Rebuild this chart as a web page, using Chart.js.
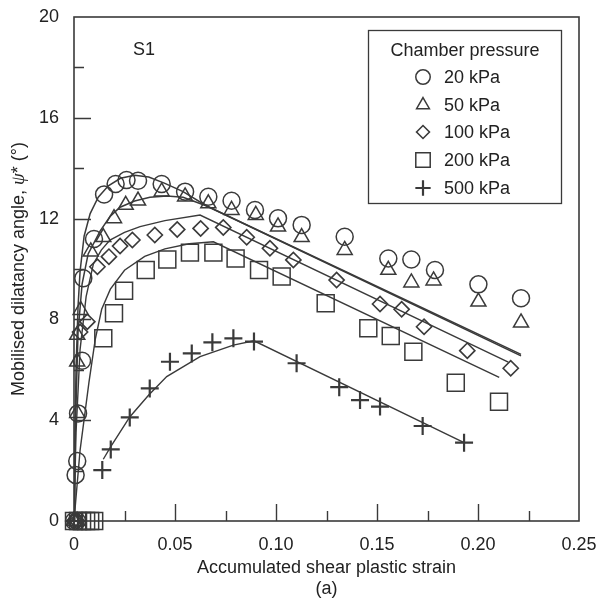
<!DOCTYPE html>
<html>
<head>
<meta charset="utf-8">
<script src="https://cdn.jsdelivr.net/npm/chart.js@4"></script>
<style>
  html, body { margin: 0; padding: 0; background: #fff; }
  #wrap { width: 598px; height: 600px; }
</style>
</head>
<body>
<div id="wrap"><canvas id="dilChart" width="598" height="600"></canvas></div>
<script>
// tick values
const xTicks = [0, 0.05, 0.10, 0.15, 0.20, 0.25];
const yTicks = [0, 4, 8, 12, 16, 20];

const seriesNames = ['20 kPa', '50 kPa', '100 kPa', '200 kPa', '500 kPa'];

// measured points
const p20X = [0, 0.0015, 0.0008, 0.0016, 0.002, 0.004, 0.0046, 0.0099, 0.0149, 0.0206, 0.026, 0.0317, 0.0434, 0.055, 0.0665, 0.078, 0.0896, 0.101, 0.1127, 0.134, 0.1556, 0.167, 0.1787, 0.2002, 0.2213];
const p20Y = [0, 0, 1.83, 2.38, 4.27, 6.36, 9.63, 11.19, 12.96, 13.37, 13.53, 13.5, 13.37, 13.07, 12.87, 12.71, 12.34, 12.01, 11.75, 11.28, 10.42, 10.38, 9.96, 9.39, 8.84];

const p50X = [0, 0.0015, 0.0016, 0.0016, 0.0016, 0.0033, 0.0083, 0.0145, 0.0198, 0.0256, 0.0317, 0.0434, 0.055, 0.0665, 0.078, 0.090, 0.101, 0.1127, 0.134, 0.1556, 0.167, 0.178, 0.2002, 0.2213];
const p50Y = [0, 0, 4.28, 6.32, 7.38, 8.37, 10.69, 11.26, 12.01, 12.54, 12.71, 13.07, 12.87, 12.6, 12.34, 12.14, 11.68, 11.26, 10.75, 9.96, 9.46, 9.54, 8.7, 7.87];

const p100X = [0, 0.0015, 0.003, 0.0066, 0.0116, 0.0173, 0.0228, 0.0289, 0.04, 0.0511, 0.0627, 0.0739, 0.0855, 0.097, 0.1086, 0.130, 0.1515, 0.1622, 0.1733, 0.1947, 0.2162];
const p100Y = [0, 0, 7.5, 7.91, 10.09, 10.49, 10.91, 11.15, 11.35, 11.57, 11.61, 11.65, 11.26, 10.82, 10.36, 9.56, 8.61, 8.4, 7.71, 6.76, 6.06];

const p200X = [0, 0.002, 0.004, 0.006, 0.008, 0.010, 0.0145, 0.0198, 0.0248, 0.0355, 0.0462, 0.0574, 0.069, 0.080, 0.0916, 0.1028, 0.1246, 0.1457, 0.1568, 0.168, 0.189, 0.2104];
const p200Y = [0, 0, 0, 0, 0, 0, 7.25, 8.24, 9.14, 9.96, 10.38, 10.65, 10.65, 10.42, 9.96, 9.7, 8.64, 7.65, 7.34, 6.72, 5.49, 4.73];

const p500X = [0, 0.002, 0.014, 0.0182, 0.0276, 0.0375, 0.0475, 0.0583, 0.0685, 0.0789, 0.0891, 0.1102, 0.1313, 0.1416, 0.1515, 0.1726, 0.1931];
const p500Y = [0, 0, 2.02, 2.84, 4.11, 5.26, 6.32, 6.65, 7.09, 7.25, 7.12, 6.26, 5.31, 4.8, 4.54, 3.77, 3.11];

// model curves
const m20X = [0, 0.0004, 0.001, 0.002, 0.003, 0.005, 0.008, 0.012, 0.017, 0.023, 0.03, 0.037, 0.045, 0.054, 0.0657, 0.2213];
const m20Y = [0, 3, 6, 8.5, 9.9, 11.3, 12.2, 12.85, 13.3, 13.6, 13.72, 13.65, 13.4, 13.07, 12.5, 6.61];

const m50X = [0, 0.0008, 0.002, 0.004, 0.007, 0.0129, 0.018, 0.0228, 0.03, 0.0376, 0.046, 0.054, 0.0657, 0.2213];
const m50Y = [0, 4, 7.5, 9.4, 10.6, 11.5, 12.1, 12.45, 12.7, 12.85, 12.9, 12.85, 12.5, 6.55];

const m100X = [0, 0.001, 0.003, 0.006, 0.0096, 0.0135, 0.0178, 0.025, 0.0327, 0.045, 0.0624, 0.215];
const m100Y = [0, 3.5, 6.8, 8.9, 10.2, 10.75, 11.15, 11.45, 11.68, 11.92, 12.14, 6.3];

const m200X = [0, 0.003, 0.0074, 0.0105, 0.0137, 0.018, 0.025, 0.035, 0.045, 0.057, 0.069, 0.2105];
const m200Y = [0, 2.8, 5.5, 7.2, 8.4, 9.2, 9.95, 10.5, 10.8, 11.0, 11.08, 5.7];

const m500X = [0.0145, 0.0182, 0.0277, 0.037, 0.0459, 0.0624, 0.0789, 0.0891, 0.1931];
const m500Y = [2.45, 2.95, 4.14, 5.0, 5.73, 6.52, 6.98, 7.15, 3.11];

const ink = '#3a3a3a';
const textCol = '#222';
const fontFam = '"Liberation Sans", Arial, sans-serif';

function pts(xs, ys) {
  return xs.map((x, i) => ({ x: x, y: ys[i] }));
}

function markerSet(name, xs, ys, style, r, bw) {
  return {
    label: name,
    data: pts(xs, ys),
    showLine: false,
    pointStyle: style,
    pointRadius: r,
    pointHoverRadius: r,
    pointBorderWidth: bw,
    pointBorderColor: ink,
    pointBackgroundColor: 'rgba(0,0,0,0)',
    clip: false
  };
}

function modelSet(xs, ys, w) {
  return {
    label: 'model',
    data: pts(xs, ys),
    showLine: true,
    pointRadius: 0,
    borderColor: ink,
    borderWidth: w,
    tension: 0,
    fill: false
  };
}

const markerStyles = [
  { style: 'circle', r: 8.5, bw: 1.5 },
  { style: 'triangle', r: 8.7, bw: 1.5 },
  { style: 'rectRot', r: 7.6, bw: 1.6 },
  { style: 'rect', r: 12, bw: 1.5 },
  { style: 'cross', r: 9, bw: 2.2 }
];

// no extra room for edge labels: the plot box is fixed
function noPad(s) {
  s.paddingTop = 0;
  s.paddingBottom = 0;
  s.paddingLeft = 0;
  s.paddingRight = 0;
}

// inward ticks, frame, legend box, labels
const decor = {
  id: 'decor',
  afterDraw(chart) {
    const ctx = chart.ctx;
    const xs = chart.scales.x, ys = chart.scales.y;
    const a = chart.chartArea;
    ctx.save();
    ctx.strokeStyle = ink;
    ctx.lineWidth = 1.6;
    ctx.strokeRect(a.left, a.top, a.right - a.left, a.bottom - a.top);

    ctx.lineWidth = 1.4;
    ctx.beginPath();
    for (let i = 1; i < 10; i++) {
      const v = i * 0.025;
      const px = Math.round(xs.getPixelForValue(v)) + 0.5;
      const len = i % 2 === 0 ? 17 : 10;
      ctx.moveTo(px, a.bottom);
      ctx.lineTo(px, a.bottom - len);
    }
    for (let i = 1; i < 10; i++) {
      const v = i * 2;
      const py = Math.round(ys.getPixelForValue(v)) + 0.5;
      const len = i % 2 === 0 ? 17 : 10;
      ctx.moveTo(a.left, py);
      ctx.lineTo(a.left + len, py);
    }
    ctx.stroke();

    // sample label
    ctx.fillStyle = textCol;
    ctx.font = '18px ' + fontFam;
    ctx.textAlign = 'center';
    ctx.textBaseline = 'middle';
    ctx.fillText('S1', xs.getPixelForValue(0.0347), ys.getPixelForValue(18.7));

    // y axis title with italic psi
    const partA = 'Mobilised dilatancy angle, ';
    const partB = 'ψ';
    const partC = '* (°)';
    const fN = '18px ' + fontFam;
    const fI = 'italic 19px "Liberation Serif", "DejaVu Serif", serif';
    ctx.font = fN;
    const wA = ctx.measureText(partA).width;
    const wC = ctx.measureText(partC).width;
    ctx.font = fI;
    const wB = ctx.measureText(partB).width;
    const total = wA + wB + wC;
    ctx.translate(19, (a.top + a.bottom) / 2);
    ctx.rotate(-Math.PI / 2);
    ctx.textAlign = 'left';
    let cx = -total / 2;
    ctx.font = fN;
    ctx.fillText(partA, cx, 0);
    cx += wA;
    ctx.font = fI;
    ctx.fillText(partB, cx, 0);
    cx += wB;
    ctx.font = fN;
    ctx.fillText(partC, cx, 0);
    ctx.restore();

    // legend
    ctx.save();
    ctx.strokeStyle = ink;
    ctx.lineWidth = 1.3;
    ctx.strokeRect(368.5, 30.5, 193, 173);
    ctx.fillStyle = textCol;
    ctx.font = '18px ' + fontFam;
    ctx.textAlign = 'center';
    ctx.textBaseline = 'middle';
    ctx.fillText('Chamber pressure', 465, 51);
    const rows = [77, 105, 132, 160, 188];
    ctx.textAlign = 'left';
    seriesNames.forEach((name, i) => {
      const m = markerStyles[i];
      drawMarker(ctx, m.style, 423, rows[i], m.r * 0.85, m.bw);
      ctx.fillStyle = textCol;
      ctx.fillText(name, 444, rows[i] + 1);
    });
    ctx.restore();
  }
};

function drawMarker(ctx, style, x, y, r, bw) {
  ctx.save();
  ctx.strokeStyle = ink;
  ctx.lineWidth = bw;
  ctx.beginPath();
  if (style === 'circle') {
    ctx.arc(x, y, r, 0, Math.PI * 2);
  } else if (style === 'triangle') {
    ctx.moveTo(x, y - r);
    ctx.lineTo(x + r * Math.sin(2 * Math.PI / 3), y - r * Math.cos(2 * Math.PI / 3));
    ctx.lineTo(x + r * Math.sin(4 * Math.PI / 3), y - r * Math.cos(4 * Math.PI / 3));
    ctx.closePath();
  } else if (style === 'rectRot') {
    ctx.moveTo(x - r, y);
    ctx.lineTo(x, y - r);
    ctx.lineTo(x + r, y);
    ctx.lineTo(x, y + r);
    ctx.closePath();
  } else if (style === 'rect') {
    const h = r * Math.SQRT1_2;
    ctx.rect(x - h, y - h, 2 * h, 2 * h);
  } else {
    ctx.moveTo(x - r, y);
    ctx.lineTo(x + r, y);
    ctx.moveTo(x, y - r);
    ctx.lineTo(x, y + r);
  }
  ctx.stroke();
  ctx.restore();
}

const pointSets = [[p20X, p20Y], [p50X, p50Y], [p100X, p100Y], [p200X, p200Y], [p500X, p500Y]];
const datasets = pointSets.map((s, i) =>
  markerSet(seriesNames[i], s[0], s[1], markerStyles[i].style, markerStyles[i].r, markerStyles[i].bw));
datasets.push(modelSet(m20X, m20Y, 1.5));
datasets.push(modelSet(m50X, m50Y, 1.5));
datasets.push(modelSet(m100X, m100Y, 1.4));
datasets.push(modelSet(m200X, m200Y, 1.4));
datasets.push(modelSet(m500X, m500Y, 1.4));

new Chart(document.getElementById('dilChart'), {
  type: 'scatter',
  data: { datasets: datasets },
  options: {
    responsive: false,
    animation: false,
    events: [],
    layout: { padding: { left: 0, top: 17, right: 19, bottom: 0 } },
    plugins: {
      legend: { display: false },
      tooltip: { enabled: false }
    },
    scales: {
      x: {
        type: 'linear',
        min: 0,
        max: 0.25,
        afterBuildTicks: (s) => { s.ticks = xTicks.map(v => ({ value: v })); },
        afterFit: (s) => { s.height = 79; noPad(s); },
        grid: { display: false, drawTicks: false },
        border: { display: false },
        ticks: {
          padding: 13,
          color: textCol,
          font: { family: fontFam, size: 18 },
          maxRotation: 0,
          callback: (v) => (v === 0 ? '0' : Number(v).toFixed(2))
        },
        title: {
          display: true,
          text: ['Accumulated shear plastic strain', '(a)'],
          color: textCol,
          font: { family: fontFam, size: 18, lineHeight: 21 / 18 },
          padding: { top: 0, bottom: 0 }
        }
      },
      y: {
        type: 'linear',
        min: 0,
        max: 20,
        afterBuildTicks: (s) => { s.ticks = yTicks.map(v => ({ value: v })); },
        afterFit: (s) => { s.width = 74; noPad(s); },
        grid: { display: false, drawTicks: false },
        border: { display: false },
        ticks: {
          padding: 15,
          color: textCol,
          font: { family: fontFam, size: 18 }
        }
      }
    }
  },
  plugins: [decor]
});
</script>
</body>
</html>
